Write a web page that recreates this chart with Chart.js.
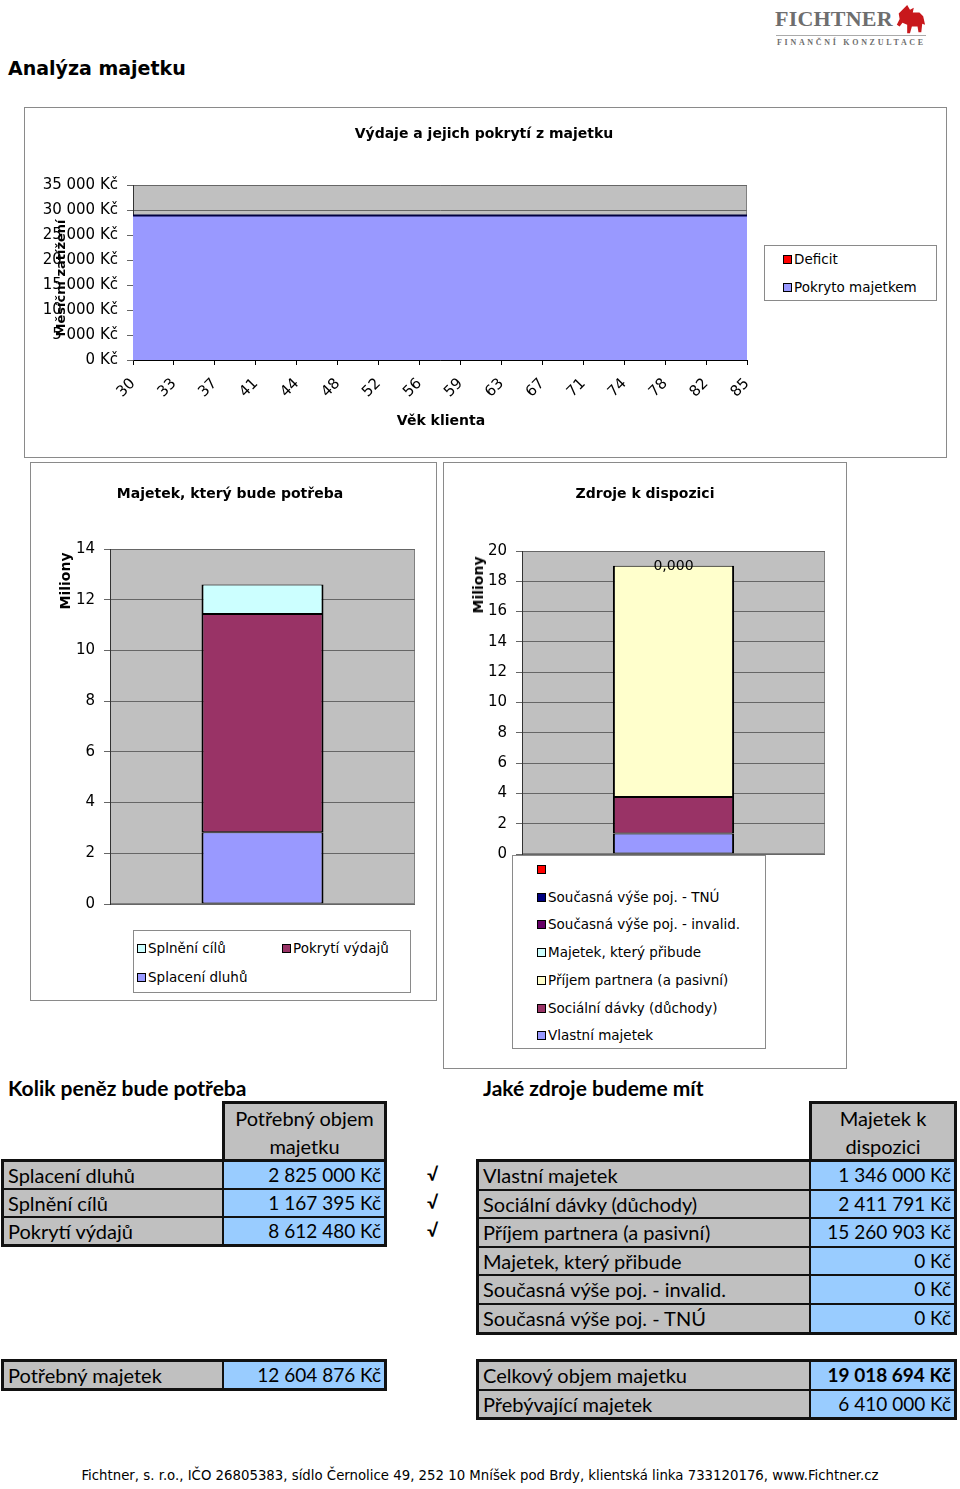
<!DOCTYPE html>
<html>
<head>
<meta charset="utf-8">
<script src="https://cdn.jsdelivr.net/npm/chart.js@4"></script>
<style>
  body { margin: 0; width: 960px; height: 1489px; position: relative; background: #fff; font-family: "DejaVu Sans", sans-serif; color: #000; overflow: hidden; }
  .abs { position: absolute; white-space: nowrap; }
  .box { position: absolute; border: 1px solid #8a8a8a; box-sizing: border-box; }
  .ctitle { position: absolute; font-weight: bold; font-size: 14px; transform: translate(-50%, -50%); white-space: nowrap; }
  .vtitle { position: absolute; font-weight: bold; font-size: 14px; transform: translate(-50%, -50%) rotate(-90deg); white-space: nowrap; }
  .sw { position: absolute; width: 7px; height: 7px; border: 1px solid #000; }
  .lg { position: absolute; font-size: 13.5px; line-height: 16px; white-space: nowrap; }
  canvas { position: absolute; }
  .frame { position: absolute; background: #111; }
  .cell { position: absolute; box-sizing: border-box; font-family: Lato, "Open Sans", sans-serif; font-size: 20px; white-space: nowrap; overflow: hidden; }
  .num { font-size: 19px; }
  .head { font-family: Lato, sans-serif; font-weight: bold; font-size: 21px; }
</style>
</head>
<body>

<!-- logo -->
<div class="abs" style="left:775px;top:6px;font-family:'Liberation Serif',serif;font-weight:bold;font-size:22px;color:#6e6e6e;letter-spacing:0.2px;">FICHTNER</div>
<svg class="abs" style="left:894px;top:3px" width="32" height="34" viewBox="0 0 34 34">
  <path d="M14 1 L17 6 L21 4 L20 9 L27 9 L31 13 L33 22 L30 21 L29 30 L26 30 L25 24 L19 24 L17 31 L14 31 L14 22 L9 20 L6 24 L3 22 L6 16 L5 10 L9 6 Z" fill="#c8181c"/>
</svg>
<div class="abs" style="left:776px;top:35px;width:150px;height:1px;background:#aaa;"></div>
<div class="abs" style="left:777px;top:38px;font-family:'Liberation Serif',serif;font-weight:bold;font-size:8px;color:#6e6e6e;letter-spacing:2.7px;">FINANČNÍ KONZULTACE</div>

<div class="abs" style="left:8px;top:57px;font-weight:bold;font-size:19px;">Analýza majetku</div>

<!-- chart boxes -->
<div class="box" style="left:24px;top:107px;width:923px;height:351px;"></div>
<div class="box" style="left:30px;top:462px;width:407px;height:539px;"></div>
<div class="box" style="left:443px;top:462px;width:404px;height:607px;"></div>

<canvas id="vydaje" width="922" height="350" style="left:24px;top:107px"></canvas>
<canvas id="potreba" width="406" height="538" style="left:30px;top:462px"></canvas>
<canvas id="zdroje" width="403" height="606" style="left:443px;top:462px"></canvas>

<div class="ctitle" style="left:484px;top:133px">Výdaje a jejich pokrytí z majetku</div>
<div class="ctitle" style="left:441px;top:420px">Věk klienta</div>
<div class="vtitle" style="left:60px;top:278px;font-size:13px">Měsíční zatížení</div>
<div class="ctitle" style="left:230px;top:493px">Majetek, který bude potřeba</div>
<div class="vtitle" style="left:65px;top:581px">Miliony</div>
<div class="ctitle" style="left:645px;top:493px">Zdroje k dispozici</div>
<div class="vtitle" style="left:478px;top:585px">Miliony</div>

<!-- legends -->
<div class="box" style="left:764px;top:245px;width:173px;height:56px;background:#fff"></div>
<div class="box" style="left:133px;top:930px;width:278px;height:63px;background:#fff"></div>
<div class="box" style="left:512px;top:855px;width:254px;height:194px;background:#fff"></div>
<div id="legends"></div>

<div id="tables"></div>

<div class="abs" style="left:0;width:960px;text-align:center;top:1468px;font-size:13.3px;">Fichtner, s. r.o., IČO 26805383, sídlo Černolice 49, 252 10 Mníšek pod Brdy, klientská linka 733120176, www.Fichtner.cz</div>

<script>
// top chart: monthly expenses by client age
const ages = ['30', '33', '37', '41', '44', '48', '52', '56', '59', '63', '67', '71', '74', '78', '82', '85'];
const pokrytoMajetkem = [28900, 28900, 28900, 28900, 28900, 28900, 28900, 28900, 28900, 28900, 28900, 28900, 28900, 28900, 28900, 28900];
const deficit = [0, 0, 0, 0, 0, 0, 0, 0, 0, 0, 0, 0, 0, 0, 0, 0];
const vydajeTicks = [0, 5000, 10000, 15000, 20000, 25000, 30000, 35000];

// needed assets (stack order bottom -> top)
const potrebaLabels = ['Splacení dluhů', 'Pokrytí výdajů', 'Splnění cílů'];
const potrebaValues = [2825000, 8612480, 1167395];
const potrebaColors = ['#9999ff', '#993366', '#ccffff'];

// available resources (stack order bottom -> top)
const zdrojeLabels = ['Vlastní majetek', 'Sociální dávky (důchody)', 'Příjem partnera (a pasivní)', 'Majetek, který přibude', 'Současná výše poj. - invalid.', 'Současná výše poj. - TNÚ', ''];
const zdrojeValues = [1346000, 2411791, 15260903, 0, 0, 0, 0];
const zdrojeColors = ['#9999ff', '#993366', '#ffffcc', '#ccffff', '#660066', '#000080', '#ff0000'];

// tables
const potrebaTableLabels = ['Splacení dluhů', 'Splnění cílů', 'Pokrytí výdajů'];
const potrebaTableValues = [2825000, 1167395, 8612480];
const zdrojeTableLabels = ['Vlastní majetek', 'Sociální dávky (důchody)', 'Příjem partnera (a pasivní)', 'Majetek, který přibude', 'Současná výše poj. - invalid.', 'Současná výše poj. - TNÚ'];
const zdrojeTableValues = [1346000, 2411791, 15260903, 0, 0, 0];
const potrebnyMajetek = 12604876;
const celkovyObjem = 19018694;
const prebyvajiciMajetek = 6410000;

const kc = v => String(v).replace(/\B(?=(\d{3})+(?!\d))/g, ' ') + ' Kč';

Chart.defaults.font.family = 'DejaVu Sans';
Chart.defaults.font.size = 15;
Chart.defaults.color = '#000';
Chart.defaults.animation = false;
Chart.defaults.devicePixelRatio = 1;

// grey plot area like the spreadsheet
const plotBg = {
  id: 'plotBg',
  beforeDraw(chart) {
    const { ctx, chartArea: a } = chart;
    ctx.save();
    ctx.fillStyle = '#c0c0c0';
    ctx.fillRect(a.left, a.top, a.right - a.left, a.bottom - a.top);
    ctx.strokeStyle = '#808080';
    ctx.lineWidth = 1;
    ctx.strokeRect(a.left + 0.5, a.top + 0.5, a.right - a.left - 1, a.bottom - a.top - 1);
    ctx.restore();
  }
};

// value label on top of the resources stack
const topLabel = {
  id: 'topLabel',
  afterDatasetsDraw(chart) {
    const last = chart.data.datasets.length - 1;
    const el = chart.getDatasetMeta(last).data[0];
    const v = chart.data.datasets[last].data[0];
    const ctx = chart.ctx;
    ctx.save();
    ctx.font = '14px "DejaVu Sans"';
    ctx.fillStyle = '#000';
    ctx.textAlign = 'center';
    ctx.textBaseline = 'middle';
    ctx.fillText((v / 1e6).toFixed(3).replace('.', ','), el.x, el.y);
    ctx.restore();
  }
};

new Chart(document.getElementById('vydaje'), {
  type: 'line',
  plugins: [plotBg],
  data: {
    labels: ages,
    datasets: [
      { label: 'Pokryto majetkem', data: pokrytoMajetkem, fill: 'origin', backgroundColor: '#9999ff', borderColor: '#000040', borderWidth: 2, pointRadius: 0, tension: 0 },
      { label: 'Deficit', data: deficit, fill: '-1', backgroundColor: '#ff0000', borderWidth: 0, pointRadius: 0, tension: 0 }
    ]
  },
  options: {
    responsive: false,
    layout: { padding: { left: 0, right: 199, top: 78, bottom: 0 } },
    plugins: { legend: { display: false }, tooltip: { enabled: false } },
    scales: {
      x: {
        offset: false,
        grid: { drawOnChartArea: false, tickLength: 5, color: '#000' },
        border: { color: '#000', width: 1 },
        ticks: { minRotation: 45, maxRotation: 45, autoSkip: false, padding: 10 },
        afterFit: s => { s.height = 97; }
      },
      y: {
        stacked: true,
        min: 0, max: 35000,
        afterBuildTicks: s => { s.ticks = vydajeTicks.map(v => ({ value: v })); },
        grid: { color: '#666', tickLength: 6 },
        border: { color: '#333' },
        ticks: { padding: 9, callback: v => kc(v) },
        afterFit: s => { s.width = 109; }
      }
    }
  }
});

const barOpts = (max, yWidth, pad) => ({
  responsive: false,
  layout: { padding: pad },
  plugins: { legend: { display: false }, tooltip: { enabled: false } },
  scales: {
    x: { stacked: true, display: false },
    y: {
      stacked: true,
      min: 0, max: max,
      ticks: { stepSize: 2000000, padding: 9, callback: v => String(v / 1e6) },
      grid: { color: '#666', tickLength: 6 },
      border: { color: '#333' },
      afterFit: s => { s.width = yWidth; }
    }
  }
});

const barSets = (labels, values, colors) => labels.map((l, i) => ({
  label: l,
  data: [values[i]],
  backgroundColor: colors[i],
  borderColor: '#000',
  borderWidth: { left: 2, right: 2, top: 1, bottom: 1 },
  borderSkipped: false,
  barPercentage: 0.4,
  categoryPercentage: 1.0
}));

new Chart(document.getElementById('potreba'), {
  type: 'bar',
  plugins: [plotBg],
  data: { labels: [''], datasets: barSets(potrebaLabels, potrebaValues, potrebaColors) },
  options: barOpts(14000000, 80, { left: 0, right: 21, top: 87, bottom: 96 })
});

new Chart(document.getElementById('zdroje'), {
  type: 'bar',
  plugins: [plotBg, topLabel],
  data: { labels: [''], datasets: barSets(zdrojeLabels, zdrojeValues, zdrojeColors) },
  options: barOpts(20000000, 79, { left: 0, right: 21, top: 89, bottom: 214 })
});

// legends
const lgRoot = document.getElementById('legends');
function legendItem(x, y, color, text) {
  const sw = document.createElement('div');
  sw.className = 'sw';
  sw.style.left = x + 'px';
  sw.style.top = (y - 4) + 'px';
  sw.style.background = color;
  lgRoot.appendChild(sw);
  const t = document.createElement('div');
  t.className = 'lg';
  t.style.left = (x + 11) + 'px';
  t.style.top = (y - 8) + 'px';
  t.textContent = text;
  lgRoot.appendChild(t);
}
legendItem(783, 259, '#ff0000', 'Deficit');
legendItem(783, 287, '#9999ff', 'Pokryto majetkem');

const potrebaRev = potrebaLabels.map((l, i) => i).reverse();
const potrebaPos = [[137, 948], [282, 948], [137, 977]];
potrebaRev.forEach((i, k) => legendItem(potrebaPos[k][0], potrebaPos[k][1], potrebaColors[i], potrebaLabels[i]));

zdrojeLabels.map((l, i) => i).reverse().forEach((i, k) => legendItem(537, 869 + k * 27.7, zdrojeColors[i], zdrojeLabels[i]));

// tables
const tRoot = document.getElementById('tables');
function div(cls, x, y, w, h, css, html) {
  const d = document.createElement('div');
  d.className = cls;
  Object.assign(d.style, { left: x + 'px', top: y + 'px', width: w + 'px', height: h + 'px' }, css || {});
  if (html !== undefined) d.innerHTML = html;
  tRoot.appendChild(d);
  return d;
}
function header(x, y, w, text) {
  div('frame', x, y, w, 61);
  div('cell', x + 3, y + 3, w - 6, 55, { background: '#c0c0c0', textAlign: 'center', lineHeight: '28px' }, text);
}
function rows(x, y, labelW, valueW, step, labels, values, boldIdx) {
  const h = step - 2;
  div('frame', x, y, labelW + valueW + 8, labels.length * step + 4);
  labels.forEach((l, i) => {
    const ry = y + 3 + i * step;
    div('cell', x + 3, ry, labelW, h, { background: '#c0c0c0', lineHeight: h + 'px', paddingLeft: '4px' }, l);
    div('cell num', x + 5 + labelW, ry, valueW, h, { background: '#99ccff', lineHeight: h + 'px', textAlign: 'right', paddingRight: '3px', fontWeight: i === boldIdx ? 'bold' : 'normal' }, values[i]);
  });
}

div('abs head', 8, 1075, 300, 26, {}, 'Kolik peněz bude potřeba');
div('abs head', 483, 1075, 300, 26, {}, 'Jaké zdroje budeme mít');

header(222, 1101, 165, 'Potřebný objem<br>majetku');
rows(1, 1159, 218, 160, 28, potrebaTableLabels, potrebaTableValues.map(kc), -1);
potrebaTableLabels.forEach((l, i) => div('abs head', 427, 1163 + i * 28, 20, 26, { fontSize: '18px' }, '√'));

header(809, 1101, 148, 'Majetek k<br>dispozici');
rows(476, 1159, 330, 143, 28.6, zdrojeTableLabels, zdrojeTableValues.map(kc), -1);

rows(1, 1359, 218, 160, 28, ['Potřebný majetek'], [kc(potrebnyMajetek)], -1);
rows(476, 1359, 330, 143, 28.6, ['Celkový objem majetku', 'Přebývající majetek'], [kc(celkovyObjem), kc(prebyvajiciMajetek)], 0);
</script>
</body>
</html>
